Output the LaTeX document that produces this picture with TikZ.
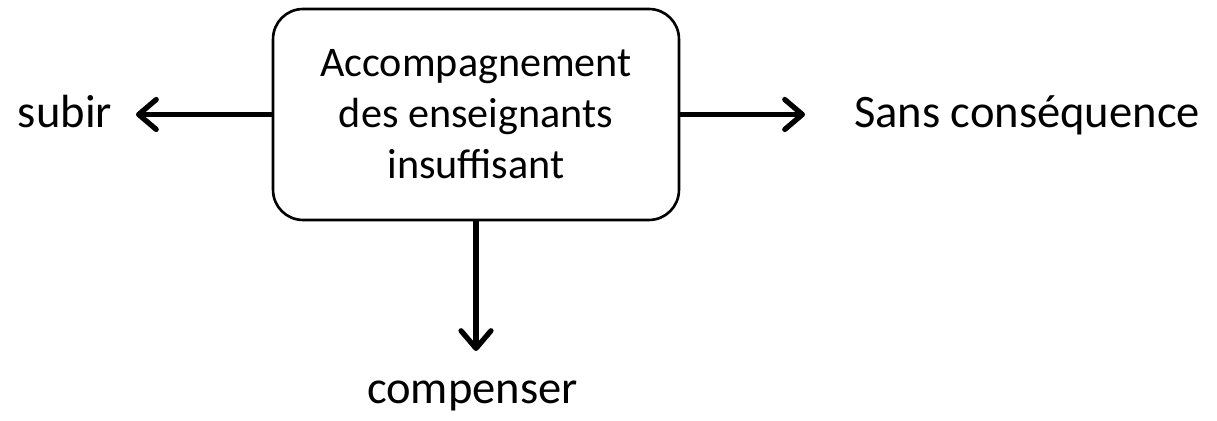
\documentclass[tikz,border=0pt]{standalone}
\usepackage{fontspec}
\setmainfont{Carlito}
\usetikzlibrary{arrows.meta}
\begin{document}
\begin{tikzpicture}[x=0.02cm,y=-0.02cm,
  mainbox/.style={draw,line width=1.5pt,rounded corners=0.6cm,minimum width=8.12cm,minimum height=4.22cm,align=center,font=\fontsize{24}{29}\selectfont,inner sep=0pt},
  lbl/.style={font=\fontsize{26.5}{31}\selectfont,anchor=base,inner sep=0pt},
  arr/.style={line width=3pt,-{Straight Barb[length=10pt,width=17pt,line cap=round,round]}}]
\useasboundingbox (0,0) rectangle (1217,421);
\node[mainbox] (box) at (476,114.5) {Accompagnement\\des enseignants\\insuffisant};
\coordinate (tl) at (136,114.5);
\coordinate (tr) at (805,114.5);
\coordinate (tb) at (476,351);
\node[lbl] (subir) at (65,128) {subir};
\node[lbl] (sans) at (1027,128) {Sans conséquence};
\node[lbl] (comp) at (472.5,404) {compenser};
\draw[arr] (box.west) -- (tl);
\draw[arr] (box.east) -- (tr);
\draw[arr] (box.south) -- (tb);
\end{tikzpicture}
\end{document}
